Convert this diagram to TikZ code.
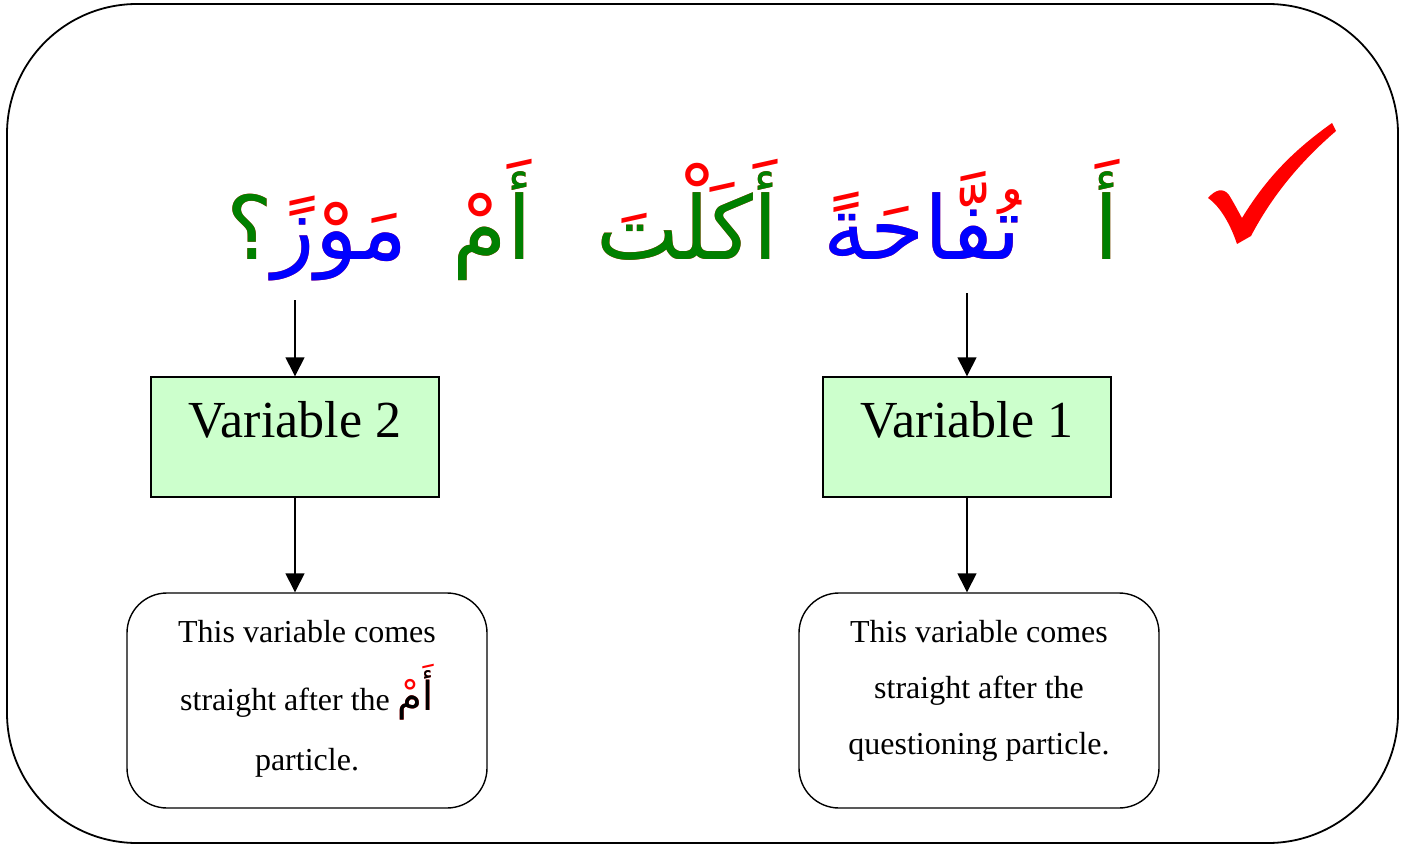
\documentclass[tikz,border=0pt]{standalone}
\usepackage{fontspec}
\setmainfont{Liberation Serif}
\newfontfamily\arabicfont[Script=Arabic]{DejaVu Sans}
\TeXXeTstate=1
\usetikzlibrary{arrows.meta}
\definecolor{agreen}{RGB}{0,128,0}
\definecolor{ablue}{RGB}{0,0,255}
\definecolor{ared}{RGB}{255,0,0}
\definecolor{boxgreen}{RGB}{204,255,204}
\newcommand{\ar}[1]{\beginR #1\endR}
\begin{document}
\begin{tikzpicture}[x=1pt,y=-1pt,
  frame/.style={draw=black,line width=1.8pt,rounded corners=130pt},
  varbox/.style={draw=black,line width=1.4pt,fill=boxgreen,minimum width=288pt,minimum height=120pt,inner sep=0pt},
  notebox/.style={draw=black,line width=1.4pt,rounded corners=40pt,minimum width=360pt,minimum height=215pt,inner sep=0pt},
  vartext/.style={anchor=base,font=\fontsize{52}{60}\selectfont,inner sep=0pt},
  notetext/.style={anchor=base,font=\fontsize{32}{38}\selectfont,inner sep=0pt},
  arabword/.style={anchor=base,font=\arabicfont\fontsize{88}{100}\selectfont,inner sep=0pt},
  conn/.style={draw=black,line width=1.4pt,-{Triangle[length=19pt,width=19pt]}}]
\useasboundingbox (0,0) rectangle (1414,845);
\draw[frame] (7,4) rectangle (1398,843);

% Arabic sentence, word by word: red vowel layer, then coloured letters on top
\node[arabword,text=ared] (w1r) at (1107,260) {\ar{أَ}};
\node[arabword,text=agreen] (w1) at (1107,260) {\ar{أ}};
\node[arabword,text=ared] (w2r) at (922,260) {\ar{تُفَّاحَةً}};
\node[arabword,text=ablue] (w2) at (922,260) {\ar{تفاحة}};
\node[arabword,text=ared] (w3r) at (687,260) {\ar{أَكَلْتَ}};
\node[arabword,text=agreen] (w3) at (687,260) {\ar{أكلت}};
\node[arabword,text=ared] (w4r) at (492,260) {\ar{أَمْ}};
\node[arabword,text=agreen] (w4) at (492,260) {\ar{أم}};
\node[arabword,text=ared] (w5r) at (317,260) {\ar{؟}\ar{مَوْزً}};
\node[arabword] (w5) at (317,260) {{\color{agreen}\ar{؟}}{\color{ablue}\ar{موز}}};

% check mark
\fill[ared] (1208,198) .. controls (1215,190) and (1223,187) .. (1229,195)
  .. controls (1234,203) and (1238,211) .. (1242,218)
  .. controls (1270,172) and (1300,146) .. (1332,123)
  -- (1336,131)
  .. controls (1300,162) and (1272,196) .. (1251,236)
  -- (1237,244)
  .. controls (1231,226) and (1221,207) .. (1208,198) -- cycle;

% right column
\coordinate (s1) at (967,293);
\node[varbox] (v1) at (967,437) {};
\node[vartext] (v1t) at (967,437) {Variable 1};
\node[notebox] (n1) at (979,700.5) {};
\node[notetext] (n1a) at (979,642) {This variable comes};
\node[notetext] (n1b) at (979,698) {straight after the};
\node[notetext] (n1c) at (979,754) {questioning particle.};
\draw[conn] (s1) -- (v1.north);
\draw[conn] (v1.south) -- (n1.north -| v1.south);

% left column
\coordinate (s2) at (295,300);
\node[varbox] (v2) at (295,437) {};
\node[vartext] (v2t) at (295,437) {Variable 2};
\node[notebox] (n2) at (307,700.5) {};
\node[notetext] (n2a) at (307,642) {This variable comes};
\node[notetext] (n2b) at (307,710) {straight after the
  \makebox[0pt][l]{\arabicfont\fontsize{40}{44}\selectfont\color{ared}\ar{أَمْ}}{\arabicfont\fontsize{40}{44}\selectfont\ar{أم}}};
\node[notetext] (n2c) at (307,770) {particle.};
\draw[conn] (s2) -- (v2.north);
\draw[conn] (v2.south) -- (n2.north -| v2.south);
\end{tikzpicture}
\end{document}
